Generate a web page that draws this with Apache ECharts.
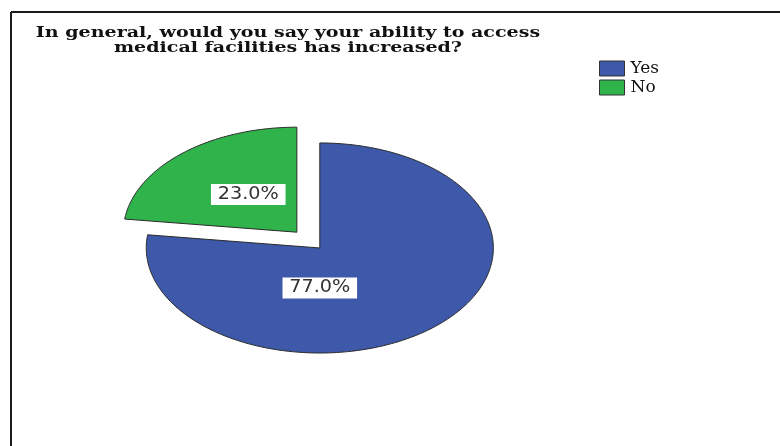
<!DOCTYPE html>
<html>
<head>
<meta charset="utf-8">
<script src="https://cdn.jsdelivr.net/npm/echarts@6/dist/echarts.min.js"></script>
<style>
  html, body { margin: 0; padding: 0; background: #fff; }
  #chart { width: 780px; height: 446px; }
</style>
</head>
<body>
<div id="chart"></div>
<script>
// Survey answers and their shares (percent of respondents)
const categories = ['Yes', 'No'];
const percents = [77.0, 23.0];
const titleLines = ['In general, would you say your ability to access', 'medical facilities has increased?'];

// Styling / layout
const sliceColors = ['#3e58aa', '#2fb34a'];
const explodeFraction = [0, 0.2];                  // pulled-out distance, as fraction of radius
const labelOffsets = [[0, 0.38], [-0.28, -0.36]];  // label position, in radius units from slice centre
const pieLayout = { cx: 0.41, cy: 0.556, rx: 0.2225, ry: 0.2355 };
const wideText = 1.27;   // horizontal stretch of the title lettering
const wideLabel = 1.13;  // horizontal stretch of the value boxes

const total = percents.reduce((a, b) => a + b, 0);

function sliceRenderer(idx) {
  return function (params, api) {
    const w = api.getWidth(), h = api.getHeight();
    const cx0 = w * pieLayout.cx, cy0 = h * pieLayout.cy;
    const rx = w * pieLayout.rx, ry = h * pieLayout.ry;
    let before = 0;
    for (let k = 0; k < idx; k++) before += percents[k];
    const value = api.value(0);
    const a0 = before / total * Math.PI * 2;
    const a1 = (before + value) / total * Math.PI * 2;
    const mid = (a0 + a1) / 2;
    const d = explodeFraction[idx];
    const cx = cx0 + rx * d * Math.sin(mid);
    const cy = cy0 - ry * d * Math.cos(mid);
    const pts = [[cx, cy]];
    const steps = Math.max(8, Math.ceil((a1 - a0) / (Math.PI / 180)));
    for (let s = 0; s <= steps; s++) {
      const t = a0 + (a1 - a0) * s / steps;
      pts.push([cx + rx * Math.sin(t), cy - ry * Math.cos(t)]);
    }
    const lo = labelOffsets[idx];
    return {
      type: 'group',
      children: [
        {
          type: 'polygon',
          shape: { points: pts },
          style: { fill: sliceColors[idx], stroke: '#2a2a2a', lineWidth: 1 }
        },
        {
          type: 'text',
          x: cx + lo[0] * rx,
          y: cy + lo[1] * ry,
          scaleX: wideLabel,
          z2: 10,
          style: {
            text: value.toFixed(1) + '%',
            fill: '#333',
            fontFamily: 'DejaVu Sans',
            fontSize: 17,
            align: 'center',
            verticalAlign: 'middle',
            backgroundColor: '#fff',
            padding: [2, 6, 2, 6]
          }
        }
      ]
    };
  };
}

const chart = echarts.init(document.getElementById('chart'), null, { renderer: 'canvas' });
chart.setOption({
  animation: false,
  color: sliceColors,
  legend: {
    orient: 'vertical',
    left: 594,
    top: 55,
    itemWidth: 25,
    itemHeight: 15,
    itemGap: 2,
    icon: 'rect',
    data: categories,
    itemStyle: { borderColor: '#333', borderWidth: 1 },
    textStyle: { fontFamily: 'DejaVu Serif', fontSize: 17, color: '#111', padding: [0, 0, 0, 1] }
  },
  graphic: [
    { type: 'line', shape: { x1: 11, y1: 12, x2: 780, y2: 12 }, style: { stroke: '#1a1a1a', lineWidth: 2 } },
    { type: 'line', shape: { x1: 11, y1: 12, x2: 11, y2: 446 }, style: { stroke: '#1a1a1a', lineWidth: 2 } },
    {
      type: 'text',
      x: 288,
      y: 26,
      scaleX: wideText,
      style: {
        text: titleLines.join('\n'),
        fill: '#111',
        fontFamily: 'DejaVu Serif',
        fontWeight: 'bold',
        fontSize: 15,
        lineHeight: 15,
        align: 'center',
        verticalAlign: 'top'
      }
    }
  ],
  series: categories.map((name, i) => ({
    type: 'custom',
    name: name,
    coordinateSystem: 'none',
    itemStyle: { color: sliceColors[i] },
    data: [[percents[i]]],
    renderItem: sliceRenderer(i)
  }))
});
</script>
</body>
</html>
